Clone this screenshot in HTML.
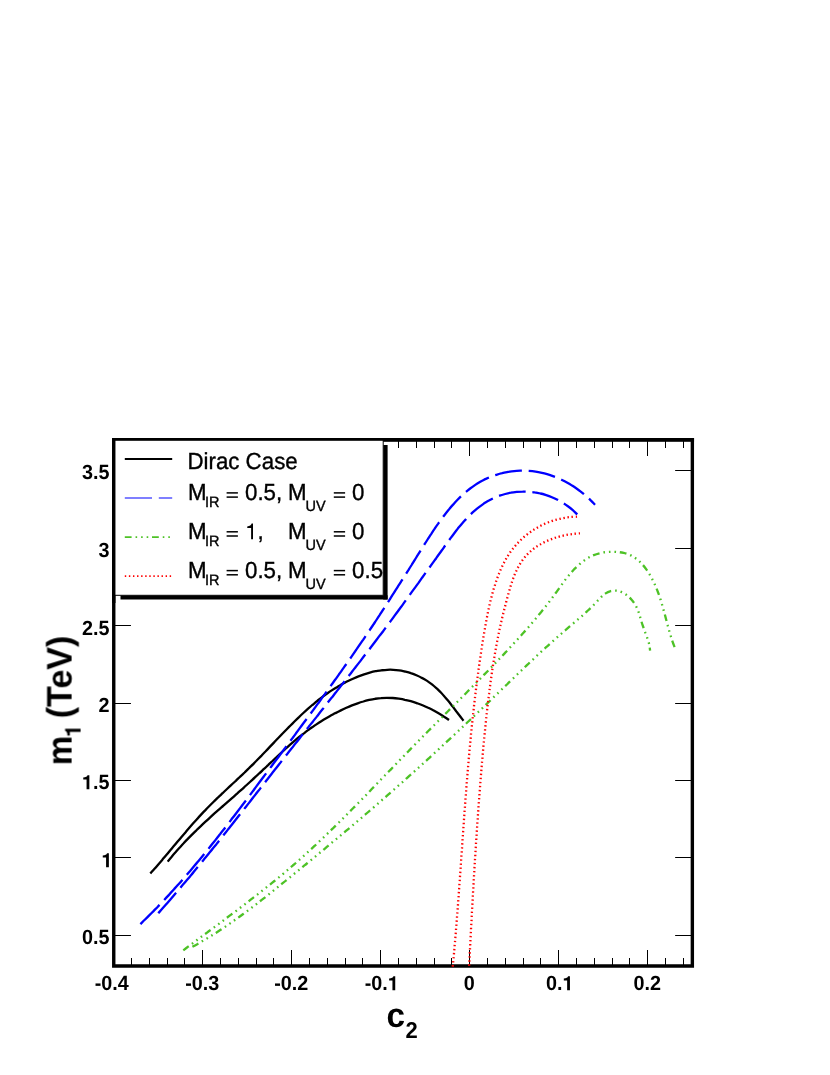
<!DOCTYPE html>
<html><head><meta charset="utf-8"><title>m1 vs c2</title>
<style>html,body{margin:0;padding:0;background:#fff}svg{display:block;will-change:transform}text{font-family:"Liberation Sans",sans-serif;fill:#000;text-rendering:geometricPrecision}.b{font-weight:bold}</style></head><body>
<svg width="830" height="1075" viewBox="0 0 830 1075">
<defs><clipPath id="fr"><rect x="113.75" y="440.00" width="578.60" height="527.70"/></clipPath></defs>
<path d="M113.75 438.00 V966.00 H692.35 V438.00" fill="none" stroke="#000" stroke-width="3.4" stroke-linejoin="miter"/>
<rect x="112.05" y="438.0" width="582.00" height="3.8" fill="#000"/>
<g stroke="#000" stroke-width="1" fill="none">
<path d="M131.50 966.00 v-8.00M131.50 440.00 v8.00M149.50 966.00 v-8.00M149.50 440.00 v8.00M167.50 966.00 v-8.00M167.50 440.00 v8.00M184.50 966.00 v-8.00M184.50 440.00 v8.00M202.50 966.00 v-16.00M202.50 440.00 v16.00M220.50 966.00 v-8.00M220.50 440.00 v8.00M238.50 966.00 v-8.00M238.50 440.00 v8.00M256.50 966.00 v-8.00M256.50 440.00 v8.00M273.50 966.00 v-8.00M273.50 440.00 v8.00M291.50 966.00 v-16.00M291.50 440.00 v16.00M309.50 966.00 v-8.00M309.50 440.00 v8.00M327.50 966.00 v-8.00M327.50 440.00 v8.00M345.50 966.00 v-8.00M345.50 440.00 v8.00M362.50 966.00 v-8.00M362.50 440.00 v8.00M380.50 966.00 v-16.00M380.50 440.00 v16.00M398.50 966.00 v-8.00M398.50 440.00 v8.00M416.50 966.00 v-8.00M416.50 440.00 v8.00M434.50 966.00 v-8.00M434.50 440.00 v8.00M451.50 966.00 v-8.00M451.50 440.00 v8.00M469.50 966.00 v-16.00M469.50 440.00 v16.00M487.50 966.00 v-8.00M487.50 440.00 v8.00M505.50 966.00 v-8.00M505.50 440.00 v8.00M523.50 966.00 v-8.00M523.50 440.00 v8.00M540.50 966.00 v-8.00M540.50 440.00 v8.00M558.50 966.00 v-16.00M558.50 440.00 v16.00M576.50 966.00 v-8.00M576.50 440.00 v8.00M594.50 966.00 v-8.00M594.50 440.00 v8.00M612.50 966.00 v-8.00M612.50 440.00 v8.00M629.50 966.00 v-8.00M629.50 440.00 v8.00M647.50 966.00 v-16.00M647.50 440.00 v16.00M665.50 966.00 v-8.00M665.50 440.00 v8.00M683.50 966.00 v-8.00M683.50 440.00 v8.00"/>
<path d="M113.75 935.50 h17.2M692.35 935.50 h-17.2M113.75 857.50 h17.2M692.35 857.50 h-17.2M113.75 780.50 h17.2M692.35 780.50 h-17.2M113.75 703.50 h17.2M692.35 703.50 h-17.2M113.75 625.50 h17.2M692.35 625.50 h-17.2M113.75 548.50 h17.2M692.35 548.50 h-17.2M113.75 470.50 h17.2M692.35 470.50 h-17.2"/>
</g>
<g fill="none" stroke-width="2.3" clip-path="url(#fr)">
<path d="M150.3 873.5C151.0 872.7 153.0 870.5 154.3 869.0C155.7 867.5 157.0 866.0 158.3 864.4C159.6 862.9 160.9 861.4 162.2 859.9C163.5 858.4 164.8 856.8 166.1 855.3C167.4 853.8 168.7 852.2 169.9 850.7C171.2 849.2 172.5 847.6 173.8 846.1C175.1 844.6 176.4 843.0 177.6 841.5C178.9 840.0 180.2 838.5 181.5 836.9C182.8 835.4 184.1 833.9 185.4 832.4C186.7 830.8 188.0 829.3 189.3 827.8C190.6 826.3 191.9 824.8 193.2 823.3C194.5 821.8 195.9 820.3 197.2 818.9C198.5 817.4 199.9 815.9 201.3 814.4C202.6 813.0 204.0 811.5 205.4 810.1C206.8 808.6 208.2 807.2 209.6 805.8C211.0 804.4 212.4 803.0 213.9 801.5C215.3 800.1 216.8 798.7 218.2 797.3C219.7 796.0 221.1 794.6 222.6 793.2C224.0 791.8 225.5 790.4 227.0 789.0C228.5 787.6 229.9 786.3 231.4 784.9C232.9 783.5 234.3 782.1 235.8 780.8C237.3 779.4 238.7 778.0 240.2 776.6C241.7 775.2 243.1 773.9 244.6 772.5C246.0 771.1 247.5 769.7 248.9 768.3C250.3 766.9 251.8 765.5 253.2 764.1C254.6 762.7 256.0 761.3 257.4 759.8C258.8 758.4 260.2 757.0 261.6 755.6C262.9 754.1 264.3 752.7 265.7 751.3C267.1 749.8 268.4 748.4 269.8 746.9C271.2 745.5 272.5 744.1 273.9 742.6C275.3 741.2 276.6 739.8 278.0 738.3C279.4 736.9 280.8 735.5 282.1 734.0C283.5 732.6 284.9 731.2 286.3 729.7C287.7 728.3 289.1 726.9 290.5 725.5C291.9 724.1 293.3 722.7 294.7 721.3C296.1 719.9 297.5 718.5 299.0 717.1C300.4 715.7 301.9 714.3 303.3 713.0C304.8 711.6 306.3 710.2 307.8 708.9C309.3 707.6 310.8 706.3 312.3 705.0C313.9 703.7 315.4 702.4 317.0 701.1C318.6 699.9 320.2 698.6 321.8 697.4C323.4 696.2 325.0 695.0 326.7 693.8C328.3 692.7 330.0 691.5 331.7 690.4C333.4 689.3 335.1 688.2 336.9 687.2C338.6 686.1 340.4 685.1 342.1 684.1C343.9 683.2 345.7 682.2 347.5 681.3C349.3 680.4 351.1 679.5 353.0 678.7C354.8 677.9 356.6 677.1 358.5 676.4C360.4 675.7 362.2 675.0 364.1 674.3C366.0 673.7 367.9 673.1 369.8 672.6C371.7 672.1 373.7 671.6 375.6 671.2C377.5 670.9 379.5 670.5 381.4 670.3C383.4 670.1 385.3 669.9 387.3 669.8C389.2 669.7 391.2 669.7 393.2 669.8C395.1 669.9 397.1 670.1 399.1 670.4C401.1 670.7 403.0 671.1 405.0 671.5C406.9 672.0 408.9 672.5 410.8 673.2C412.7 673.8 414.6 674.5 416.4 675.3C418.3 676.1 420.1 676.9 421.9 677.9C423.7 678.8 425.4 679.8 427.1 680.9C428.8 682.0 430.4 683.2 432.0 684.4C433.6 685.7 435.1 687.0 436.6 688.3C438.0 689.7 439.5 691.1 440.9 692.5C442.3 694.0 443.6 695.5 444.9 697.0C446.3 698.5 447.5 700.1 448.8 701.6C450.1 703.2 451.3 704.8 452.6 706.4C453.8 708.0 455.0 709.6 456.2 711.2C457.5 712.8 458.7 714.4 459.9 716.0C461.1 717.6 462.9 719.9 463.5 720.7" stroke="#000" stroke-linejoin="round"/>
<path d="M167.7 861.6C168.3 860.8 170.2 858.4 171.5 856.9C172.8 855.3 174.1 853.8 175.5 852.3C176.8 850.7 178.1 849.2 179.5 847.7C180.9 846.2 182.2 844.7 183.6 843.3C185.0 841.8 186.4 840.3 187.8 838.9C189.2 837.4 190.6 836.0 192.0 834.6C193.5 833.1 194.9 831.7 196.4 830.3C197.8 828.9 199.3 827.5 200.8 826.1C202.2 824.7 203.7 823.3 205.2 821.9C206.7 820.6 208.2 819.2 209.7 817.8C211.2 816.5 212.7 815.1 214.2 813.7C215.7 812.4 217.3 811.0 218.8 809.7C220.3 808.3 221.9 807.0 223.4 805.6C224.9 804.3 226.5 802.9 228.0 801.6C229.5 800.3 231.1 798.9 232.6 797.6C234.1 796.3 235.6 794.9 237.1 793.6C238.6 792.2 240.2 790.9 241.6 789.6C243.1 788.2 244.6 786.9 246.1 785.5C247.6 784.2 249.1 782.8 250.5 781.5C252.0 780.1 253.5 778.8 254.9 777.4C256.4 776.1 257.9 774.7 259.3 773.3C260.8 772.0 262.2 770.6 263.7 769.2C265.2 767.9 266.6 766.5 268.1 765.1C269.5 763.7 271.0 762.4 272.5 761.0C273.9 759.6 275.4 758.2 276.9 756.8C278.4 755.4 279.9 754.0 281.4 752.7C282.8 751.3 284.4 749.9 285.9 748.5C287.4 747.2 288.9 745.8 290.4 744.4C292.0 743.1 293.5 741.8 295.1 740.4C296.6 739.1 298.2 737.8 299.8 736.5C301.4 735.3 303.0 734.0 304.6 732.8C306.2 731.5 307.9 730.3 309.5 729.1C311.2 727.9 312.9 726.8 314.5 725.6C316.2 724.5 317.9 723.4 319.6 722.3C321.4 721.2 323.1 720.1 324.8 719.1C326.6 718.0 328.3 717.0 330.1 716.0C331.9 715.0 333.7 714.1 335.5 713.1C337.3 712.2 339.1 711.3 340.9 710.4C342.7 709.5 344.6 708.6 346.4 707.8C348.3 707.0 350.1 706.2 352.0 705.4C353.9 704.7 355.8 704.0 357.7 703.3C359.6 702.6 361.5 702.0 363.4 701.5C365.3 700.9 367.2 700.4 369.2 699.9C371.1 699.5 373.0 699.1 375.0 698.8C377.0 698.5 378.9 698.2 380.9 698.1C382.9 697.9 384.8 697.8 386.8 697.8C388.8 697.8 390.8 697.9 392.8 698.0C394.8 698.1 396.8 698.4 398.8 698.7C400.8 699.0 402.8 699.3 404.8 699.8C406.8 700.2 408.8 700.7 410.8 701.2C412.8 701.8 414.7 702.4 416.7 703.1C418.6 703.8 420.6 704.5 422.5 705.3C424.4 706.1 426.3 706.9 428.2 707.8C430.0 708.6 431.9 709.6 433.7 710.5C435.5 711.5 437.3 712.5 439.0 713.5C440.7 714.5 442.5 715.6 444.1 716.7C445.8 717.7 448.2 719.4 449.0 720.0" stroke="#000" stroke-linejoin="round"/>
<path d="M140.4 924.1C141.1 923.4 143.4 921.2 144.8 919.8C146.3 918.3 147.7 916.9 149.2 915.4C150.6 914.0 152.1 912.5 153.5 911.1C154.9 909.6 156.4 908.2 157.8 906.7C159.2 905.2 160.6 903.8 162.0 902.3C163.4 900.8 164.8 899.3 166.1 897.9C167.5 896.4 168.9 894.9 170.2 893.4C171.6 891.9 173.0 890.4 174.3 888.9C175.7 887.4 177.0 885.9 178.3 884.5C179.7 883.0 181.0 881.5 182.3 879.9C183.6 878.4 184.9 876.9 186.2 875.4C187.5 873.9 188.8 872.4 190.1 870.9C191.4 869.4 192.7 867.9 194.0 866.3C195.3 864.8 196.6 863.3 197.8 861.8C199.1 860.2 200.4 858.7 201.6 857.2C202.9 855.6 204.1 854.1 205.4 852.6C206.6 851.0 207.9 849.5 209.1 847.9C210.4 846.4 211.6 844.9 212.8 843.3C214.1 841.8 215.3 840.2 216.5 838.7C217.8 837.1 219.0 835.5 220.2 834.0C221.4 832.4 222.6 830.9 223.9 829.3C225.1 827.7 226.3 826.2 227.5 824.6C228.7 823.0 229.9 821.5 231.1 819.9C232.3 818.3 233.5 816.8 234.7 815.2C235.9 813.6 237.1 812.0 238.3 810.5C239.5 808.9 240.7 807.3 241.9 805.7C243.1 804.1 244.3 802.5 245.5 801.0C246.7 799.4 247.9 797.8 249.1 796.2C250.3 794.6 251.5 793.0 252.7 791.4C253.9 789.8 255.0 788.2 256.2 786.6C257.4 785.0 258.6 783.4 259.8 781.8C261.0 780.2 262.2 778.6 263.4 777.0C264.6 775.4 265.8 773.8 267.0 772.2C268.2 770.6 269.4 769.0 270.6 767.4C271.8 765.8 273.0 764.1 274.2 762.5C275.4 760.9 276.6 759.3 277.9 757.7C279.1 756.1 280.3 754.4 281.5 752.8C282.7 751.2 283.9 749.6 285.1 748.0C286.3 746.3 287.5 744.7 288.7 743.1C289.9 741.5 291.1 739.8 292.4 738.2C293.6 736.6 294.8 735.0 296.0 733.3C297.2 731.7 298.4 730.1 299.6 728.4C300.8 726.8 302.0 725.2 303.2 723.5C304.4 721.9 305.6 720.3 306.9 718.6C308.1 717.0 309.3 715.4 310.5 713.7C311.7 712.1 312.9 710.5 314.1 708.8C315.3 707.2 316.5 705.5 317.7 703.9C318.9 702.3 320.1 700.6 321.3 699.0C322.4 697.3 323.6 695.7 324.8 694.1C326.0 692.4 327.2 690.8 328.4 689.1C329.6 687.5 330.8 685.9 331.9 684.2C333.1 682.6 334.3 680.9 335.5 679.3C336.7 677.6 337.8 676.0 339.0 674.3C340.2 672.7 341.3 671.1 342.5 669.4C343.7 667.8 344.8 666.1 346.0 664.5C347.2 662.8 348.3 661.2 349.5 659.5C350.6 657.9 351.8 656.2 352.9 654.6C354.1 652.9 355.2 651.3 356.3 649.6C357.5 648.0 358.6 646.4 359.7 644.7C360.9 643.1 362.0 641.4 363.1 639.8C364.2 638.1 365.4 636.5 366.5 634.8C367.6 633.2 368.7 631.5 369.8 629.9C370.9 628.2 372.0 626.6 373.1 625.0C374.2 623.3 375.3 621.7 376.4 620.0C377.4 618.4 378.5 616.7 379.6 615.1C380.7 613.4 381.8 611.8 382.8 610.1C383.9 608.5 385.0 606.8 386.0 605.2C387.1 603.5 388.2 601.9 389.3 600.2C390.3 598.6 391.4 596.9 392.4 595.2C393.5 593.6 394.6 591.9 395.6 590.2C396.7 588.6 397.7 586.9 398.8 585.2C399.9 583.6 400.9 581.9 402.0 580.2C403.1 578.5 404.1 576.8 405.2 575.2C406.2 573.5 407.3 571.8 408.4 570.1C409.4 568.4 410.5 566.7 411.6 565.0C412.6 563.3 413.7 561.6 414.8 559.8C415.9 558.1 416.9 556.4 418.0 554.7C419.1 552.9 420.2 551.2 421.3 549.5C422.4 547.7 423.5 546.0 424.6 544.2C425.7 542.5 426.8 540.8 427.9 539.0C429.0 537.3 430.1 535.5 431.3 533.8C432.4 532.1 433.5 530.4 434.7 528.7C435.8 526.9 437.0 525.2 438.2 523.6C439.4 521.9 440.6 520.2 441.8 518.6C443.0 516.9 444.3 515.3 445.5 513.7C446.8 512.1 448.0 510.5 449.3 509.0C450.6 507.4 451.9 505.9 453.3 504.4C454.6 502.9 456.0 501.4 457.3 500.0C458.7 498.6 460.1 497.2 461.6 495.8C463.0 494.5 464.5 493.2 466.0 491.9C467.5 490.7 469.0 489.4 470.5 488.3C472.1 487.1 473.7 486.0 475.3 484.9C476.9 483.8 478.6 482.8 480.3 481.8C481.9 480.9 483.7 480.0 485.4 479.1C487.2 478.3 489.0 477.5 490.8 476.7C492.7 476.0 494.5 475.4 496.4 474.8C498.3 474.2 500.3 473.6 502.2 473.2C504.2 472.7 506.2 472.3 508.1 471.9C510.1 471.6 512.1 471.3 514.2 471.1C516.2 470.9 518.2 470.8 520.2 470.7C522.3 470.7 524.3 470.7 526.3 470.8C528.4 470.8 530.4 471.0 532.4 471.2C534.4 471.4 536.5 471.7 538.4 472.1C540.4 472.5 542.4 472.9 544.4 473.4C546.3 473.9 548.3 474.5 550.2 475.1C552.1 475.8 554.0 476.5 555.9 477.2C557.8 478.0 559.7 478.8 561.5 479.7C563.3 480.6 565.1 481.5 566.9 482.5C568.7 483.5 570.4 484.5 572.1 485.6C573.9 486.7 575.5 487.8 577.2 489.0C578.8 490.1 580.4 491.4 582.0 492.6C583.6 493.9 585.1 495.2 586.6 496.5C588.1 497.8 589.6 499.2 591.0 500.6C592.4 501.9 594.4 504.1 595.1 504.8" stroke="#0000ff" stroke-dasharray="27.11 6.78"/>
<path d="M158.3 913.2C159.0 912.4 161.0 910.2 162.4 908.6C163.7 907.1 165.0 905.6 166.4 904.0C167.7 902.5 169.1 901.0 170.4 899.4C171.7 897.9 173.0 896.4 174.4 894.8C175.7 893.3 177.0 891.8 178.3 890.2C179.6 888.7 180.9 887.2 182.2 885.6C183.5 884.1 184.8 882.5 186.1 881.0C187.4 879.5 188.7 877.9 190.0 876.4C191.3 874.8 192.6 873.3 193.8 871.7C195.1 870.2 196.4 868.7 197.7 867.1C198.9 865.6 200.2 864.0 201.5 862.5C202.7 860.9 204.0 859.4 205.3 857.8C206.5 856.3 207.8 854.7 209.0 853.2C210.3 851.6 211.6 850.1 212.8 848.5C214.1 847.0 215.3 845.4 216.6 843.9C217.8 842.3 219.0 840.8 220.3 839.2C221.5 837.6 222.8 836.1 224.0 834.5C225.2 833.0 226.5 831.4 227.7 829.9C229.0 828.3 230.2 826.7 231.4 825.2C232.7 823.6 233.9 822.1 235.1 820.5C236.4 818.9 237.6 817.4 238.8 815.8C240.0 814.3 241.3 812.7 242.5 811.1C243.7 809.6 244.9 808.0 246.2 806.4C247.4 804.9 248.6 803.3 249.9 801.7C251.1 800.2 252.3 798.6 253.5 797.0C254.8 795.5 256.0 793.9 257.2 792.3C258.4 790.8 259.7 789.2 260.9 787.6C262.1 786.1 263.3 784.5 264.6 782.9C265.8 781.3 267.0 779.8 268.2 778.2C269.5 776.6 270.7 775.1 271.9 773.5C273.2 771.9 274.4 770.3 275.6 768.8C276.9 767.2 278.1 765.6 279.3 764.0C280.6 762.5 281.8 760.9 283.0 759.3C284.3 757.7 285.5 756.1 286.8 754.6C288.0 753.0 289.2 751.4 290.5 749.8C291.7 748.3 293.0 746.7 294.2 745.1C295.5 743.5 296.7 741.9 298.0 740.4C299.2 738.8 300.5 737.2 301.7 735.6C303.0 734.0 304.2 732.4 305.5 730.9C306.7 729.3 308.0 727.7 309.2 726.1C310.5 724.5 311.7 722.9 313.0 721.4C314.2 719.8 315.5 718.2 316.8 716.6C318.0 715.0 319.3 713.4 320.5 711.8C321.8 710.3 323.0 708.7 324.3 707.1C325.5 705.5 326.8 703.9 328.0 702.3C329.3 700.7 330.5 699.1 331.8 697.6C333.0 696.0 334.3 694.4 335.5 692.8C336.8 691.2 338.0 689.6 339.3 688.0C340.5 686.4 341.8 684.8 343.0 683.3C344.3 681.7 345.5 680.1 346.8 678.5C348.0 676.9 349.2 675.3 350.5 673.7C351.7 672.1 353.0 670.5 354.2 668.9C355.4 667.3 356.7 665.7 357.9 664.1C359.1 662.6 360.4 661.0 361.6 659.4C362.8 657.8 364.0 656.2 365.3 654.6C366.5 653.0 367.7 651.4 368.9 649.8C370.2 648.2 371.4 646.6 372.6 645.0C373.8 643.4 375.0 641.8 376.2 640.2C377.4 638.6 378.6 637.0 379.8 635.4C381.1 633.8 382.3 632.3 383.5 630.7C384.6 629.1 385.8 627.5 387.0 625.9C388.2 624.3 389.4 622.7 390.6 621.1C391.8 619.5 393.0 617.9 394.1 616.3C395.3 614.7 396.5 613.1 397.7 611.5C398.8 609.9 400.0 608.3 401.2 606.7C402.4 605.1 403.5 603.5 404.7 601.9C405.9 600.3 407.0 598.7 408.2 597.1C409.4 595.5 410.5 593.9 411.7 592.2C412.8 590.6 414.0 589.0 415.2 587.4C416.3 585.8 417.5 584.2 418.7 582.6C419.8 581.0 421.0 579.3 422.1 577.7C423.3 576.1 424.5 574.5 425.6 572.9C426.8 571.2 428.0 569.6 429.1 568.0C430.3 566.4 431.5 564.7 432.6 563.1C433.8 561.5 435.0 559.8 436.2 558.2C437.3 556.6 438.5 554.9 439.7 553.3C440.9 551.6 442.1 550.0 443.3 548.3C444.4 546.7 445.6 545.0 446.8 543.4C448.0 541.7 449.2 540.1 450.4 538.4C451.6 536.8 452.9 535.1 454.1 533.5C455.3 531.9 456.6 530.2 457.8 528.6C459.1 527.0 460.4 525.5 461.7 523.9C463.0 522.4 464.4 520.8 465.8 519.4C467.1 517.9 468.5 516.4 470.0 515.0C471.4 513.6 472.9 512.2 474.4 510.9C475.9 509.6 477.4 508.3 479.0 507.1C480.6 505.9 482.2 504.7 483.8 503.6C485.5 502.6 487.2 501.5 488.9 500.6C490.6 499.6 492.3 498.7 494.1 497.9C495.9 497.1 497.7 496.4 499.6 495.7C501.4 495.0 503.3 494.5 505.2 494.0C507.1 493.5 509.0 493.0 510.9 492.7C512.9 492.3 514.8 492.1 516.8 491.9C518.8 491.7 520.7 491.6 522.7 491.6C524.7 491.5 526.7 491.6 528.6 491.7C530.6 491.9 532.6 492.1 534.6 492.4C536.5 492.6 538.5 493.0 540.4 493.5C542.4 493.9 544.3 494.5 546.2 495.1C548.2 495.7 550.1 496.4 551.9 497.2C553.8 498.0 555.6 498.8 557.5 499.7C559.3 500.7 561.0 501.7 562.8 502.8C564.5 503.8 566.2 505.0 567.9 506.2C569.6 507.4 571.2 508.7 572.8 510.1C574.3 511.5 576.5 513.7 577.3 514.4" stroke="#0000ff" stroke-dasharray="27.05 6.76"/>
<path d="M183.3 950.3C184.1 949.7 186.5 947.9 188.1 946.7C189.7 945.5 191.3 944.3 192.9 943.1C194.5 941.9 196.1 940.7 197.7 939.5C199.3 938.3 200.9 937.1 202.5 935.9C204.2 934.7 205.8 933.5 207.4 932.3C209.0 931.1 210.6 930.0 212.2 928.8C213.8 927.6 215.4 926.4 217.0 925.2C218.7 924.0 220.3 922.8 221.9 921.6C223.5 920.4 225.1 919.2 226.7 917.9C228.3 916.7 229.9 915.5 231.5 914.3C233.1 913.1 234.7 911.9 236.4 910.7C238.0 909.5 239.6 908.3 241.2 907.0C242.8 905.8 244.4 904.6 246.0 903.4C247.6 902.2 249.2 900.9 250.7 899.7C252.3 898.5 253.9 897.2 255.5 896.0C257.1 894.8 258.7 893.5 260.3 892.3C261.8 891.0 263.4 889.8 265.0 888.5C266.6 887.3 268.1 886.0 269.7 884.8C271.3 883.5 272.8 882.3 274.4 881.0C276.0 879.7 277.5 878.4 279.1 877.2C280.6 875.9 282.1 874.6 283.7 873.3C285.2 872.0 286.8 870.7 288.3 869.4C289.8 868.1 291.3 866.8 292.8 865.5C294.4 864.2 295.9 862.9 297.4 861.5C298.9 860.2 300.4 858.9 301.9 857.5C303.4 856.2 304.9 854.9 306.3 853.5C307.8 852.2 309.3 850.8 310.8 849.4C312.3 848.1 313.7 846.7 315.2 845.4C316.6 844.0 318.1 842.6 319.6 841.2C321.0 839.9 322.5 838.5 323.9 837.1C325.4 835.7 326.8 834.3 328.3 832.9C329.7 831.5 331.1 830.1 332.6 828.7C334.0 827.3 335.4 825.9 336.9 824.5C338.3 823.1 339.7 821.7 341.1 820.3C342.5 818.9 344.0 817.5 345.4 816.0C346.8 814.6 348.2 813.2 349.6 811.8C351.0 810.3 352.4 808.9 353.8 807.5C355.3 806.1 356.7 804.6 358.1 803.2C359.5 801.8 360.9 800.3 362.3 798.9C363.7 797.4 365.1 796.0 366.5 794.6C367.9 793.1 369.3 791.7 370.7 790.2C372.0 788.8 373.4 787.4 374.8 785.9C376.2 784.5 377.6 783.0 379.0 781.6C380.4 780.1 381.8 778.7 383.2 777.2C384.6 775.8 386.0 774.3 387.4 772.9C388.8 771.5 390.2 770.0 391.6 768.6C393.0 767.1 394.4 765.7 395.8 764.2C397.2 762.8 398.6 761.3 400.0 759.9C401.4 758.5 402.8 757.0 404.2 755.6C405.6 754.1 407.0 752.7 408.4 751.3C409.8 749.8 411.2 748.4 412.6 746.9C414.0 745.5 415.4 744.1 416.8 742.6C418.2 741.2 419.6 739.8 421.0 738.4C422.5 736.9 423.9 735.5 425.3 734.1C426.7 732.6 428.1 731.2 429.5 729.8C431.0 728.4 432.4 726.9 433.8 725.5C435.2 724.1 436.6 722.7 438.0 721.2C439.5 719.8 440.9 718.4 442.3 717.0C443.7 715.5 445.1 714.1 446.6 712.7C448.0 711.3 449.4 709.8 450.8 708.4C452.2 707.0 453.7 705.6 455.1 704.2C456.5 702.7 457.9 701.3 459.3 699.9C460.7 698.5 462.2 697.0 463.6 695.6C465.0 694.2 466.4 692.7 467.8 691.3C469.2 689.9 470.6 688.5 472.0 687.0C473.4 685.6 474.9 684.2 476.3 682.7C477.7 681.3 479.1 679.9 480.5 678.4C481.9 677.0 483.3 675.6 484.7 674.1C486.1 672.7 487.5 671.3 488.9 669.8C490.2 668.4 491.6 666.9 493.0 665.5C494.4 664.1 495.8 662.6 497.2 661.2C498.6 659.7 499.9 658.3 501.3 656.8C502.7 655.4 504.1 653.9 505.4 652.4C506.8 651.0 508.2 649.5 509.5 648.1C510.9 646.6 512.3 645.1 513.6 643.7C515.0 642.2 516.3 640.7 517.7 639.2C519.0 637.8 520.4 636.3 521.7 634.8C523.0 633.3 524.4 631.8 525.7 630.3C527.0 628.8 528.3 627.3 529.6 625.8C530.9 624.3 532.2 622.8 533.5 621.2C534.8 619.7 536.1 618.2 537.4 616.6C538.7 615.1 539.9 613.5 541.2 612.0C542.5 610.4 543.7 608.9 545.0 607.3C546.2 605.7 547.4 604.1 548.7 602.5C549.9 600.9 551.1 599.3 552.3 597.7C553.5 596.1 554.7 594.4 555.9 592.8C557.1 591.2 558.2 589.5 559.4 587.9C560.6 586.2 561.8 584.5 563.0 582.9C564.2 581.3 565.4 579.6 566.6 578.1C567.9 576.5 569.2 574.9 570.5 573.4C571.8 571.8 573.2 570.3 574.5 568.9C575.9 567.5 577.4 566.1 578.9 564.7C580.4 563.4 581.9 562.1 583.5 561.0C585.1 559.8 586.7 558.7 588.5 557.7C590.2 556.7 591.9 555.9 593.8 555.1C595.6 554.4 597.6 553.8 599.5 553.3C601.5 552.8 603.5 552.4 605.5 552.2C607.6 551.9 609.6 551.8 611.7 551.8C613.7 551.7 615.8 551.8 617.8 552.0C619.8 552.2 621.8 552.5 623.7 552.9C625.6 553.4 627.4 554.0 629.2 554.7C631.0 555.4 632.7 556.4 634.3 557.4C635.9 558.4 637.4 559.6 638.9 560.9C640.3 562.2 641.7 563.6 643.0 565.1C644.3 566.6 645.5 568.2 646.7 569.9C647.9 571.6 649.0 573.3 650.0 575.1C651.1 576.9 652.1 578.8 653.0 580.6C653.9 582.5 654.8 584.4 655.6 586.3C656.4 588.2 657.2 590.1 657.9 592.0C658.6 593.9 659.3 595.8 659.9 597.7C660.5 599.6 661.1 601.5 661.7 603.4C662.3 605.3 662.8 607.2 663.3 609.1C663.9 611.0 664.4 612.9 664.9 614.8C665.4 616.7 665.9 618.6 666.4 620.5C666.9 622.4 667.4 624.4 667.9 626.3C668.5 628.2 669.0 630.1 669.5 632.0C670.1 633.9 670.7 635.8 671.3 637.8C671.9 639.7 672.5 641.6 673.2 643.5C673.9 645.4 675.0 648.3 675.4 649.3" stroke="#4dc226" stroke-dasharray="6.8 3.95 1.6 3.95 1.6 3.95 1.6 3.75"/>
<path d="M192.4 946.8C193.3 946.3 196.0 944.8 197.7 943.9C199.5 942.9 201.2 941.8 203.0 940.8C204.7 939.8 206.4 938.8 208.2 937.7C209.9 936.7 211.6 935.6 213.3 934.5C215.0 933.4 216.7 932.4 218.4 931.3C220.1 930.2 221.8 929.1 223.4 927.9C225.1 926.8 226.8 925.7 228.4 924.5C230.1 923.4 231.8 922.3 233.4 921.1C235.0 919.9 236.7 918.8 238.3 917.6C240.0 916.4 241.6 915.2 243.2 914.0C244.8 912.8 246.4 911.6 248.1 910.4C249.7 909.2 251.3 908.0 252.9 906.8C254.5 905.6 256.1 904.3 257.7 903.1C259.3 901.9 260.8 900.6 262.4 899.4C264.0 898.2 265.6 896.9 267.2 895.7C268.8 894.4 270.3 893.1 271.9 891.9C273.5 890.6 275.1 889.4 276.6 888.1C278.2 886.8 279.8 885.6 281.3 884.3C282.9 883.0 284.5 881.8 286.0 880.5C287.6 879.2 289.2 877.9 290.7 876.7C292.3 875.4 293.8 874.1 295.4 872.8C297.0 871.6 298.5 870.3 300.1 869.0C301.6 867.7 303.2 866.5 304.8 865.2C306.3 863.9 307.9 862.6 309.4 861.3C311.0 860.1 312.6 858.8 314.1 857.5C315.7 856.2 317.2 854.9 318.8 853.6C320.3 852.4 321.9 851.1 323.4 849.8C325.0 848.5 326.5 847.2 328.1 845.9C329.6 844.6 331.2 843.3 332.7 842.0C334.3 840.8 335.8 839.5 337.4 838.2C338.9 836.9 340.5 835.6 342.0 834.3C343.5 833.0 345.1 831.7 346.6 830.4C348.2 829.1 349.7 827.8 351.2 826.5C352.8 825.2 354.3 823.9 355.9 822.6C357.4 821.3 358.9 820.0 360.5 818.7C362.0 817.4 363.5 816.0 365.1 814.7C366.6 813.4 368.1 812.1 369.6 810.8C371.2 809.5 372.7 808.2 374.2 806.8C375.8 805.5 377.3 804.2 378.8 802.9C380.3 801.6 381.8 800.2 383.4 798.9C384.9 797.6 386.4 796.3 387.9 794.9C389.4 793.6 390.9 792.3 392.5 790.9C394.0 789.6 395.5 788.3 397.0 786.9C398.5 785.6 400.0 784.3 401.5 782.9C403.0 781.6 404.5 780.3 406.0 778.9C407.5 777.6 409.0 776.2 410.5 774.9C412.0 773.5 413.5 772.2 415.0 770.8C416.5 769.5 418.0 768.1 419.5 766.8C421.0 765.4 422.5 764.1 424.0 762.7C425.5 761.4 427.0 760.0 428.5 758.6C430.0 757.3 431.4 755.9 432.9 754.6C434.4 753.2 435.9 751.8 437.4 750.5C438.9 749.1 440.3 747.7 441.8 746.4C443.3 745.0 444.8 743.6 446.3 742.2C447.7 740.9 449.2 739.5 450.7 738.1C452.2 736.7 453.6 735.4 455.1 734.0C456.6 732.6 458.1 731.2 459.5 729.9C461.0 728.5 462.5 727.1 463.9 725.7C465.4 724.3 466.9 722.9 468.3 721.5C469.8 720.2 471.3 718.8 472.7 717.4C474.2 716.0 475.6 714.6 477.1 713.2C478.6 711.8 480.0 710.4 481.5 709.0C482.9 707.6 484.4 706.2 485.8 704.8C487.3 703.4 488.7 702.0 490.2 700.6C491.6 699.2 493.1 697.8 494.5 696.4C496.0 695.0 497.4 693.6 498.9 692.2C500.3 690.8 501.8 689.4 503.2 688.0C504.7 686.6 506.1 685.2 507.6 683.8C509.0 682.4 510.5 681.0 511.9 679.6C513.4 678.2 514.8 676.8 516.3 675.4C517.7 674.0 519.2 672.6 520.6 671.2C522.1 669.8 523.6 668.4 525.0 667.0C526.5 665.6 527.9 664.2 529.4 662.8C530.9 661.4 532.3 660.1 533.8 658.7C535.3 657.3 536.7 655.9 538.2 654.5C539.7 653.2 541.2 651.8 542.6 650.4C544.1 649.1 545.6 647.7 547.1 646.4C548.6 645.0 550.1 643.7 551.6 642.3C553.1 641.0 554.6 639.6 556.1 638.3C557.6 636.9 559.1 635.6 560.6 634.3C562.1 633.0 563.6 631.6 565.2 630.3C566.7 629.0 568.2 627.7 569.7 626.4C571.3 625.1 572.8 623.8 574.3 622.5C575.9 621.2 577.4 619.9 578.9 618.6C580.5 617.3 582.0 616.0 583.5 614.6C585.0 613.3 586.5 611.9 587.9 610.5C589.4 609.2 590.9 607.8 592.3 606.3C593.7 604.9 595.1 603.5 596.5 602.0C597.9 600.5 599.2 599.0 600.7 597.6C602.1 596.2 603.6 594.7 605.2 593.6C606.9 592.5 608.8 591.6 610.7 591.1C612.5 590.7 614.4 590.6 616.3 590.7C618.2 590.9 620.0 591.4 621.8 592.2C623.6 593.0 625.4 594.1 627.0 595.3C628.7 596.6 630.2 598.1 631.6 599.7C633.0 601.3 634.3 603.1 635.4 604.9C636.4 606.7 637.2 608.5 638.0 610.4C638.7 612.2 639.3 614.1 639.8 615.9C640.4 617.8 640.9 619.7 641.5 621.6C642.0 623.5 642.7 625.4 643.4 627.4C644.0 629.3 644.8 631.2 645.5 633.2C646.3 635.1 647.0 637.1 647.6 639.0C648.3 641.0 648.9 642.9 649.3 644.9C649.7 646.8 650.0 649.7 650.1 650.7" stroke="#4dc226" stroke-dasharray="6.8 3.95 1.6 3.95 1.6 3.95 1.6 3.75"/>
<path d="M577.0 516.7C576.0 516.8 572.9 516.8 570.9 517.0C568.9 517.2 566.8 517.4 564.8 517.8C562.8 518.1 560.8 518.5 558.9 519.0C556.9 519.5 554.9 520.0 553.0 520.6C551.1 521.3 549.2 522.0 547.3 522.7C545.4 523.5 543.6 524.3 541.8 525.2C540.0 526.1 538.2 527.1 536.5 528.1C534.7 529.1 533.0 530.2 531.4 531.4C529.7 532.5 528.1 533.7 526.5 535.0C524.9 536.2 523.4 537.5 521.9 538.9C520.4 540.3 519.0 541.7 517.6 543.1C516.3 544.6 515.0 546.1 513.7 547.7C512.5 549.2 511.3 550.8 510.1 552.4C509.0 554.1 507.9 555.7 506.9 557.4C505.9 559.1 504.9 560.9 504.0 562.7C503.1 564.4 502.2 566.2 501.4 568.0C500.5 569.9 499.8 571.7 499.0 573.6C498.3 575.4 497.6 577.3 496.9 579.2C496.2 581.1 495.6 583.0 495.0 584.9C494.3 586.8 493.8 588.7 493.2 590.6C492.6 592.6 492.1 594.5 491.6 596.5C491.1 598.4 490.6 600.4 490.1 602.3C489.7 604.3 489.2 606.3 488.8 608.2C488.4 610.2 487.9 612.2 487.5 614.2C487.2 616.1 486.8 618.1 486.4 620.1C486.0 622.1 485.7 624.1 485.3 626.1C485.0 628.1 484.6 630.1 484.3 632.1C483.9 634.1 483.6 636.1 483.3 638.1C483.0 640.1 482.6 642.1 482.3 644.1C482.0 646.1 481.7 648.1 481.4 650.1C481.1 652.1 480.8 654.1 480.5 656.1C480.2 658.1 479.9 660.1 479.6 662.1C479.3 664.1 479.1 666.1 478.8 668.1C478.5 670.1 478.2 672.1 478.0 674.1C477.7 676.1 477.4 678.1 477.2 680.1C476.9 682.1 476.6 684.1 476.4 686.1C476.1 688.1 475.9 690.1 475.7 692.1C475.4 694.1 475.2 696.1 474.9 698.1C474.7 700.1 474.5 702.1 474.2 704.1C474.0 706.1 473.8 708.1 473.6 710.1C473.3 712.1 473.1 714.1 472.9 716.1C472.7 718.1 472.5 720.1 472.3 722.1C472.1 724.1 471.8 726.1 471.6 728.1C471.4 730.1 471.2 732.1 471.0 734.1C470.9 736.1 470.7 738.1 470.5 740.1C470.3 742.1 470.1 744.1 469.9 746.1C469.7 748.2 469.5 750.2 469.4 752.2C469.2 754.2 469.0 756.2 468.8 758.2C468.6 760.2 468.5 762.2 468.3 764.2C468.1 766.2 468.0 768.2 467.8 770.2C467.6 772.2 467.5 774.2 467.3 776.2C467.1 778.2 467.0 780.2 466.8 782.2C466.6 784.2 466.5 786.2 466.3 788.2C466.2 790.2 466.0 792.3 465.9 794.3C465.7 796.3 465.6 798.3 465.4 800.3C465.3 802.3 465.1 804.3 465.0 806.3C464.8 808.3 464.7 810.3 464.5 812.3C464.4 814.3 464.2 816.3 464.1 818.3C463.9 820.3 463.8 822.3 463.7 824.3C463.5 826.4 463.4 828.4 463.2 830.4C463.1 832.4 462.9 834.4 462.8 836.4C462.7 838.4 462.5 840.4 462.4 842.4C462.2 844.4 462.1 846.4 462.0 848.4C461.8 850.4 461.7 852.5 461.5 854.5C461.4 856.5 461.3 858.5 461.1 860.5C461.0 862.5 460.8 864.5 460.7 866.5C460.6 868.5 460.4 870.5 460.3 872.5C460.1 874.5 460.0 876.5 459.9 878.6C459.7 880.6 459.6 882.6 459.4 884.6C459.3 886.6 459.1 888.6 459.0 890.6C458.8 892.6 458.7 894.6 458.6 896.6C458.4 898.6 458.3 900.7 458.1 902.7C458.0 904.7 457.8 906.7 457.7 908.7C457.5 910.7 457.4 912.7 457.2 914.7C457.0 916.7 456.9 918.7 456.7 920.8C456.6 922.8 456.4 924.8 456.2 926.8C456.1 928.8 455.9 930.8 455.8 932.8C455.6 934.8 455.4 936.8 455.3 938.8C455.1 940.9 454.9 942.9 454.7 944.9C454.6 946.9 454.4 948.9 454.2 950.9C454.0 952.9 453.9 954.9 453.7 956.9C453.5 958.9 453.3 961.0 453.1 963.0C452.9 965.0 452.6 968.0 452.6 969.0" stroke="#ff0000" stroke-dasharray="1.42 2.66"/>
<path d="M580.0 533.3C579.0 533.4 576.2 533.6 574.2 533.8C572.3 534.0 570.3 534.3 568.3 534.6C566.3 534.9 564.3 535.4 562.3 535.8C560.3 536.3 558.3 536.8 556.4 537.4C554.4 538.0 552.5 538.7 550.6 539.5C548.6 540.2 546.8 541.0 544.9 541.9C543.1 542.8 541.3 543.7 539.6 544.8C537.8 545.8 536.1 546.9 534.5 548.1C532.9 549.2 531.4 550.5 530.0 551.8C528.5 553.1 527.1 554.5 525.9 556.0C524.6 557.4 523.4 559.0 522.2 560.6C521.1 562.2 520.1 563.8 519.1 565.5C518.1 567.2 517.2 568.9 516.4 570.7C515.5 572.5 514.7 574.3 514.0 576.2C513.3 578.0 512.6 579.9 512.0 581.8C511.4 583.7 510.8 585.6 510.2 587.6C509.6 589.5 509.1 591.4 508.5 593.4C508.0 595.3 507.5 597.3 506.9 599.2C506.4 601.2 505.9 603.1 505.4 605.1C504.9 607.0 504.4 609.0 503.9 611.0C503.4 612.9 502.9 614.9 502.4 616.8C502.0 618.8 501.5 620.8 501.0 622.7C500.6 624.7 500.2 626.6 499.7 628.6C499.3 630.6 498.9 632.5 498.5 634.5C498.1 636.5 497.7 638.4 497.3 640.4C497.0 642.4 496.6 644.3 496.2 646.3C495.9 648.3 495.5 650.2 495.2 652.2C494.8 654.2 494.5 656.1 494.2 658.1C493.8 660.1 493.5 662.0 493.2 664.0C492.9 666.0 492.6 668.0 492.3 669.9C492.0 671.9 491.7 673.9 491.5 675.9C491.2 677.8 490.9 679.8 490.6 681.8C490.4 683.8 490.1 685.8 489.8 687.7C489.6 689.7 489.3 691.7 489.1 693.7C488.8 695.7 488.6 697.6 488.3 699.6C488.1 701.6 487.9 703.6 487.6 705.6C487.4 707.6 487.2 709.5 486.9 711.5C486.7 713.5 486.5 715.5 486.3 717.5C486.1 719.5 485.9 721.5 485.7 723.4C485.5 725.4 485.3 727.4 485.1 729.4C484.9 731.4 484.7 733.4 484.5 735.4C484.3 737.4 484.1 739.3 483.9 741.3C483.7 743.3 483.5 745.3 483.3 747.3C483.2 749.3 483.0 751.3 482.8 753.3C482.6 755.3 482.5 757.3 482.3 759.3C482.1 761.3 481.9 763.2 481.8 765.2C481.6 767.2 481.4 769.2 481.3 771.2C481.1 773.2 481.0 775.2 480.8 777.2C480.6 779.2 480.5 781.2 480.3 783.2C480.2 785.2 480.0 787.2 479.9 789.2C479.7 791.2 479.5 793.2 479.4 795.2C479.2 797.2 479.1 799.2 478.9 801.2C478.8 803.2 478.7 805.2 478.5 807.2C478.4 809.2 478.2 811.2 478.1 813.2C477.9 815.1 477.8 817.1 477.7 819.1C477.5 821.1 477.4 823.1 477.2 825.1C477.1 827.1 477.0 829.1 476.8 831.1C476.7 833.1 476.6 835.1 476.4 837.1C476.3 839.1 476.2 841.1 476.0 843.1C475.9 845.1 475.8 847.1 475.7 849.1C475.5 851.1 475.4 853.1 475.3 855.1C475.2 857.1 475.0 859.1 474.9 861.1C474.8 863.1 474.7 865.1 474.5 867.1C474.4 869.1 474.3 871.1 474.2 873.1C474.1 875.1 473.9 877.1 473.8 879.1C473.7 881.1 473.6 883.1 473.5 885.1C473.4 887.1 473.2 889.1 473.1 891.1C473.0 893.1 472.9 895.1 472.8 897.1C472.7 899.1 472.6 901.1 472.5 903.1C472.3 905.1 472.2 907.1 472.1 909.1C472.0 911.1 471.9 913.1 471.8 915.1C471.7 917.1 471.6 919.1 471.5 921.1C471.4 923.1 471.2 925.1 471.1 927.1C471.0 929.1 470.9 931.1 470.8 933.1C470.7 935.1 470.6 937.1 470.5 939.1C470.4 941.1 470.3 943.1 470.2 945.1C470.1 947.1 470.0 949.1 469.9 951.1C469.8 953.1 469.7 955.0 469.6 957.0C469.5 959.0 469.4 961.0 469.3 963.0C469.2 965.0 469.0 968.0 468.9 969.0" stroke="#ff0000" stroke-dasharray="1.42 2.644"/>
</g>
<rect x="120.50" y="595.30" width="267.10" height="4.20" fill="#000"/>
<rect x="383.20" y="445.00" width="4.40" height="154.50" fill="#000"/>
<rect x="113.75" y="440.00" width="269.45" height="155.30" fill="#fff" stroke="#000" stroke-width="1"/>
<g fill="none">
<path d="M124.8 459.0 H172.2" stroke="#000" stroke-width="2.2"/>
<path d="M124.8 498.0 H172.2" stroke="#0000ff" stroke-width="1.2" stroke-dasharray="27.2 6.8"/>
<path d="M124.8 537.1 H172.2" stroke="#4dc226" stroke-width="1.9" stroke-dasharray="6.8 3.95 1.6 3.95 1.6 3.95 1.6 3.75"/>
<path d="M124.8 576.1 H172.2" stroke="#ff0000" stroke-width="1.9" stroke-dasharray="1.42 2.66"/>
</g>
<g stroke="#000" stroke-width="0.35">
<text transform="translate(187.40 468.80) scale(1 1.040)" font-size="22.3" xml:space="preserve">Dirac Case</text>
<text transform="translate(188.00 500.30) scale(1 1.040)" font-size="22.3" xml:space="preserve">M</text><text transform="translate(205.00 507.30) scale(1 1.040)" font-size="14.5" xml:space="preserve">IR</text><rect x="226.60" y="492.15" width="11.3" height="1.5" stroke="none"/><rect x="226.60" y="496.35" width="11.3" height="1.5" stroke="none"/><text transform="translate(245.00 500.30) scale(1 1.040)" font-size="22.3" xml:space="preserve">0.5,</text><text transform="translate(288.00 500.30) scale(1 1.040)" font-size="22.3" xml:space="preserve">M</text><text transform="translate(305.60 511.30) scale(1 1.040)" font-size="14.5" xml:space="preserve">UV</text><rect x="333.80" y="492.15" width="11.3" height="1.5" stroke="none"/><rect x="333.80" y="496.35" width="11.3" height="1.5" stroke="none"/><text transform="translate(352.10 500.30) scale(1 1.040)" font-size="22.3" xml:space="preserve">0</text>
<text transform="translate(188.00 539.20) scale(1 1.040)" font-size="22.3" xml:space="preserve">M</text><text transform="translate(205.00 546.20) scale(1 1.040)" font-size="14.5" xml:space="preserve">IR</text><rect x="226.60" y="531.05" width="11.3" height="1.5" stroke="none"/><rect x="226.60" y="535.25" width="11.3" height="1.5" stroke="none"/><path transform="translate(245.00 539.20) scale(0.02230)" d="M359 0L359 -703L298 -703C284 -630 212 -580 101 -574L101 -507L274 -507L274 0Z" stroke="none"/><text transform="translate(257.40 539.20) scale(1 1.040)" font-size="22.3" xml:space="preserve">,</text><text transform="translate(288.00 539.20) scale(1 1.040)" font-size="22.3" xml:space="preserve">M</text><text transform="translate(305.60 550.20) scale(1 1.040)" font-size="14.5" xml:space="preserve">UV</text><rect x="333.80" y="531.05" width="11.3" height="1.5" stroke="none"/><rect x="333.80" y="535.25" width="11.3" height="1.5" stroke="none"/><text transform="translate(352.10 539.20) scale(1 1.040)" font-size="22.3" xml:space="preserve">0</text>
<text transform="translate(188.00 578.00) scale(1 1.040)" font-size="22.3" xml:space="preserve">M</text><text transform="translate(205.00 585.00) scale(1 1.040)" font-size="14.5" xml:space="preserve">IR</text><rect x="226.60" y="569.85" width="11.3" height="1.5" stroke="none"/><rect x="226.60" y="574.05" width="11.3" height="1.5" stroke="none"/><text transform="translate(245.00 578.00) scale(1 1.040)" font-size="22.3" xml:space="preserve">0.5,</text><text transform="translate(288.00 578.00) scale(1 1.040)" font-size="22.3" xml:space="preserve">M</text><text transform="translate(305.60 589.00) scale(1 1.040)" font-size="14.5" xml:space="preserve">UV</text><rect x="333.80" y="569.85" width="11.3" height="1.5" stroke="none"/><rect x="333.80" y="574.05" width="11.3" height="1.5" stroke="none"/><text transform="translate(352.10 578.00) scale(1 1.040)" font-size="22.3" xml:space="preserve">0.5</text>
</g>
<rect x="112.05" y="438.0" width="3.4" height="165" fill="#000"/>
<rect x="112.05" y="438.0" width="271.75" height="2.6" fill="#000"/>
<g class="b" font-size="19.8">
<text transform="translate(94.64 990.20) scale(1 1.040)" font-size="19.8" xml:space="preserve">-0.4</text>
<text transform="translate(185.14 990.20) scale(1 1.040)" font-size="19.8" xml:space="preserve">-0.3</text>
<text transform="translate(274.14 990.20) scale(1 1.040)" font-size="19.8" xml:space="preserve">-0.2</text>
<text transform="translate(364.64 990.20) scale(1 1.040)" font-size="19.8" xml:space="preserve">-0.</text><path transform="translate(387.75 990.20) scale(0.01980)" d="M378 0L378 -710L284 -710C270 -640 192 -600 69 -597L69 -492L237 -492L237 0Z" stroke="none"/>
<text transform="translate(463.70 990.20) scale(1 1.040)" font-size="19.8" xml:space="preserve">0</text>
<text transform="translate(545.94 990.20) scale(1 1.040)" font-size="19.8" xml:space="preserve">0.</text><path transform="translate(562.45 990.20) scale(0.01980)" d="M378 0L378 -710L284 -710C270 -640 192 -600 69 -597L69 -492L237 -492L237 0Z" stroke="none"/>
<text transform="translate(633.44 990.20) scale(1 1.040)" font-size="19.8" xml:space="preserve">0.2</text>
<text transform="translate(81.88 943.96) scale(1 1.040)" font-size="19.8" xml:space="preserve">0.5</text>
<path transform="translate(101.39 867.31) scale(0.01980)" d="M378 0L378 -710L284 -710C270 -640 192 -600 69 -597L69 -492L237 -492L237 0Z" stroke="none"/>
<path transform="translate(81.88 789.26) scale(0.01980)" d="M378 0L378 -710L284 -710C270 -640 192 -600 69 -597L69 -492L237 -492L237 0Z" stroke="none"/><text transform="translate(92.89 789.26) scale(1 1.040)" font-size="19.8" xml:space="preserve">.5</text>
<text transform="translate(98.39 711.91) scale(1 1.040)" font-size="19.8" xml:space="preserve">2</text>
<text transform="translate(81.88 634.56) scale(1 1.040)" font-size="19.8" xml:space="preserve">2.5</text>
<text transform="translate(98.39 557.21) scale(1 1.040)" font-size="19.8" xml:space="preserve">3</text>
<text transform="translate(81.88 479.06) scale(1 1.040)" font-size="19.8" xml:space="preserve">3.5</text>
</g>
<g class="b">
<text transform="translate(386.60 1027.20) scale(1 1.040)" font-size="33.3" xml:space="preserve">c</text>
<text transform="translate(405.40 1037.60) scale(1 1.040)" font-size="22.0" xml:space="preserve">2</text>
<g transform="translate(71.6 765.3) rotate(-90)">
<text transform="translate(0.00 0.00) scale(1 1.040)" font-size="33.3" xml:space="preserve">m</text>
<path transform="translate(28.20 9.00) scale(0.02200)" d="M378 0L378 -710L284 -710C270 -640 192 -600 69 -597L69 -492L237 -492L237 0Z" stroke="none"/>
<text transform="translate(47.00 0.00) scale(1 1.040)" font-size="34.1" xml:space="preserve">(TeV)</text>
</g></g>
</svg></body></html>
